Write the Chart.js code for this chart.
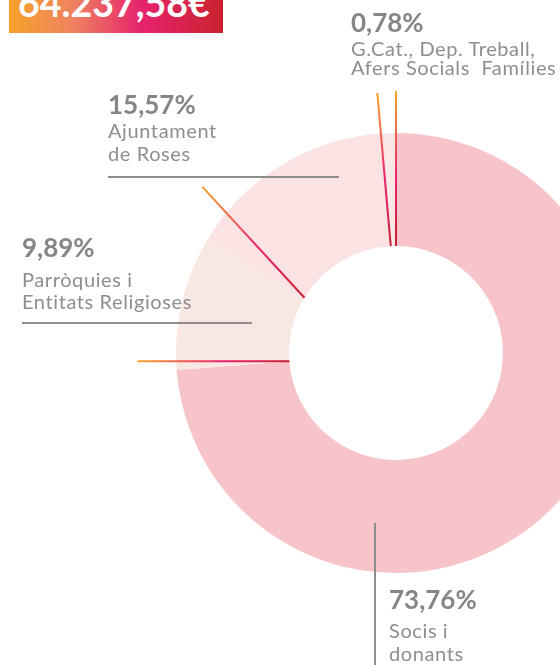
<!DOCTYPE html>
<html>
<head>
<meta charset="utf-8">
<script src="https://cdn.jsdelivr.net/npm/chart.js@4"></script>
<style>
  html, body { margin: 0; padding: 0; background: #fff; }
  #wrap { position: relative; width: 560px; height: 665px; overflow: hidden; font-family: Lato, 'Open Sans', sans-serif; }
  #chartBox { position: absolute; left: 0; top: 0; width: 792px; height: 706px; }
  .title { position: absolute; left: 9px; top: 0; width: 214px; height: 33px; overflow: hidden;
           background: linear-gradient(90deg, #f6a22a 0%, #ef8260 30%, #e6236d 62%, #ca232d 100%); }
  .title span { position: absolute; left: 9px; top: -16.5px; font-size: 37.5px; line-height: 38px; font-weight: 700; color: #fff; white-space: nowrap; }
  .pct { position: absolute; font-size: 26px; line-height: 26px; font-weight: 700; color: #868686; white-space: nowrap; }
  .txt { position: absolute; font-size: 20px; letter-spacing: 0.6px; color: #8e8e8e; white-space: pre; }
  .rule { position: absolute; background: #8d8d8d; }
</style>
</head>
<body>
<div id="wrap">
  <div id="chartBox"><canvas id="donut"></canvas></div>
  <div class="title"><span id="total"></span></div>
  <div id="labels"></div>
</div>
<script>
// data
const totalLabel = '64.237,58€';
const categories = [
  ['Socis i', 'donants'],
  ['Parròquies i', 'Entitats Religioses'],
  ['Ajuntament', 'de Roses'],
  ['G.Cat., Dep. Treball,', 'Afers Socials  Famílies']
];
const shares = [73.76, 9.89, 15.57, 0.78];

// styles
const sliceColors = ['#f7c4ca', '#f9e7e4', '#fbe2e3', '#f9e8e5'];
const leaderTilt = [0, 4.5, 16.2, -2.2];     // degrees off the slice start
const leaderLength = [155, 152, 151, 154];
const labelLayout = [
  { left: 389, pctTop: 586.2, txtTop: 618.5, lh: 23 },
  { left: 22, pctTop: 234.2, txtTop: 268, lh: 22 },
  { left: 108, pctTop: 90.5, txtTop: 119.1, lh: 23 },
  { left: 351, pctTop: 8.6, txtTop: 38.8, lh: 19 }
];
const rules = [
  { left: 374, top: 522.7, width: 2, height: 145 },
  { left: 22, top: 321.7, width: 230, height: 2 },
  { left: 108, top: 176.3, width: 231, height: 2 }
];

document.getElementById('total').textContent = totalLabel;

const labelsEl = document.getElementById('labels');
const fmt = v => v.toFixed(2).replace('.', ',') + '%';
categories.forEach((lines, i) => {
  const l = labelLayout[i];
  const p = document.createElement('div');
  p.className = 'pct';
  p.style.left = l.left + 'px';
  p.style.top = l.pctTop + 'px';
  p.textContent = fmt(shares[i]);
  labelsEl.appendChild(p);
  const t = document.createElement('div');
  t.className = 'txt';
  t.style.left = l.left + 'px';
  t.style.top = l.txtTop + 'px';
  t.style.lineHeight = l.lh + 'px';
  t.textContent = lines.join('\n');
  labelsEl.appendChild(t);
});
rules.forEach(r => {
  const d = document.createElement('div');
  d.className = 'rule';
  d.style.left = r.left + 'px';
  d.style.top = r.top + 'px';
  d.style.width = r.width + 'px';
  d.style.height = r.height + 'px';
  labelsEl.appendChild(d);
});

const leaderPlugin = {
  id: 'leaders',
  afterDatasetsDraw(chart) {
    const ctx = chart.ctx;
    const arcs = chart.getDatasetMeta(0).data;
    arcs.forEach((arc, i) => {
      const { x, y, startAngle, innerRadius } = arc.getProps(['x', 'y', 'startAngle', 'innerRadius'], true);
      const x0 = x + innerRadius * Math.cos(startAngle);
      const y0 = y + innerRadius * Math.sin(startAngle);
      const dir = startAngle + leaderTilt[i] * Math.PI / 180;
      const x1 = x0 + leaderLength[i] * Math.cos(dir);
      const y1 = y0 + leaderLength[i] * Math.sin(dir);
      const g = ctx.createLinearGradient(x1, y1, x0, y0);
      g.addColorStop(0, '#f8a42b');
      g.addColorStop(0.55, '#e8246e');
      g.addColorStop(1, '#c9202f');
      ctx.save();
      ctx.strokeStyle = g;
      ctx.lineWidth = 2;
      ctx.beginPath();
      ctx.moveTo(x1, y1);
      ctx.lineTo(x0, y0);
      ctx.stroke();
      ctx.restore();
    });
  }
};

new Chart(document.getElementById('donut').getContext('2d'), {
  type: 'doughnut',
  data: {
    labels: categories.map(c => c.join(' ')),
    datasets: [{
      data: shares,
      backgroundColor: sliceColors,
      borderWidth: 0,
      hoverOffset: 0
    }]
  },
  options: {
    responsive: true,
    maintainAspectRatio: false,
    animation: false,
    radius: 220,
    cutout: '48.6%',
    events: [],
    plugins: {
      legend: { display: false },
      tooltip: { enabled: false }
    }
  },
  plugins: [leaderPlugin]
});
</script>
</body>
</html>
